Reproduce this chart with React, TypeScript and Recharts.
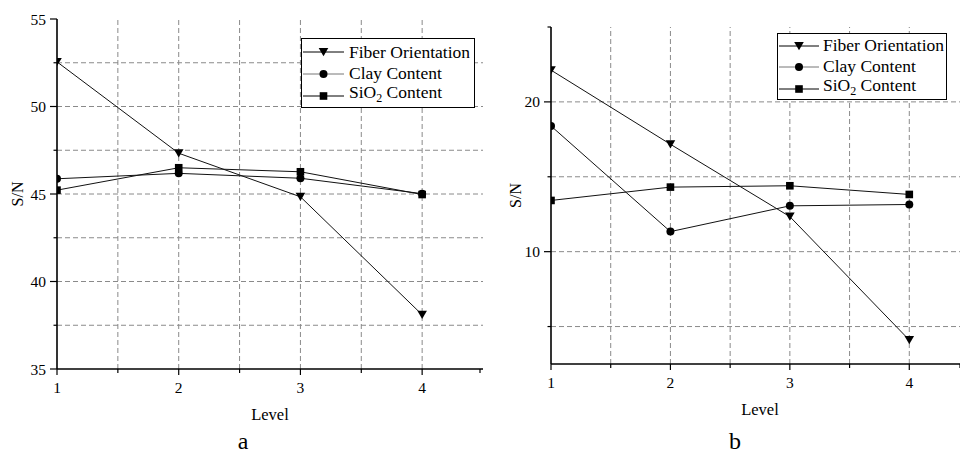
import { LineChart, Line, XAxis, YAxis, ReferenceLine, Legend } from "recharts"

const FONT = "Liberation Serif"

const levels = [1, 2, 3, 4]

// panel a
const fiberA = [52.55, 47.33, 44.84, 38.1]
const clayA = [45.87, 46.18, 45.9, 45.02]
const sio2A = [45.22, 46.5, 46.27, 44.97]

// panel b
const fiberB = [22.12, 17.17, 12.34, 4.1]
const clayB = [18.39, 11.34, 13.06, 13.15]
const sio2B = [13.42, 14.31, 14.4, 13.82]

const xTicks = [1, 1.5, 2, 2.5, 3, 3.5, 4, 4.5]
const xGrid = [1.5, 2, 2.5, 3, 3.5, 4]

const yTicksA = [35, 37.5, 40, 42.5, 45, 47.5, 50, 52.5, 55]
const yLabelsA = [35, 40, 45, 50, 55]
const yGridA = [37.5, 40, 42.5, 45, 47.5, 50, 52.5]

const yTicksB = [5, 10, 15, 20, 25]
const yLabelsB = [10, 20]
const yGridB = [5, 10, 15, 20]

const seriesNames = ["Fiber Orientation", "Clay Content", "SiO2 Content"]
const seriesKeys = ["fiber", "clay", "sio2"]

type Row = { level: number; fiber: number; clay: number; sio2: number }

const buildRows = (f: number[], c: number[], s: number[]): Row[] =>
  levels.map((level, i) => ({ level, fiber: f[i], clay: c[i], sio2: s[i] }))

const dataA = buildRows(fiberA, clayA, sio2A)
const dataB = buildRows(fiberB, clayB, sio2B)

function marker(kind: string, cx: number, cy: number, key?: string | number) {
  if (kind === "fiber") {
    return (
      <path
        key={key}
        d={`M${cx - 4.8},${cy - 4} L${cx + 4.8},${cy - 4} L${cx},${cy + 4.2} Z`}
        fill="#000"
      />
    )
  }
  if (kind === "clay") {
    return <circle key={key} cx={cx} cy={cy} r={4} fill="#000" />
  }
  return <rect key={key} x={cx - 3.8} y={cy - 3.8} width={7.6} height={7.6} fill="#000" />
}

function YTick({ x, y, payload, labels }: any) {
  const major = labels.includes(payload.value)
  const len = major ? 7 : 3.5
  return (
    <g>
      <line x1={x} y1={y} x2={x - len} y2={y} stroke="#000" strokeWidth={1.2} />
      {major && (
        <text
          x={x - len - 4}
          y={y}
          textAnchor="end"
          dominantBaseline="central"
          style={{ fontFamily: FONT, fontSize: 15.5 }}
          fill="#000"
        >
          {payload.value}
        </text>
      )}
    </g>
  )
}

function XTick({ x, y, payload }: any) {
  const major = Number.isInteger(payload.value)
  const len = major ? 6 : 4
  return (
    <g>
      <line x1={x} y1={y} x2={x} y2={y + len} stroke="#000" strokeWidth={1.2} />
      {major && payload.value <= 4 && (
        <text
          x={x}
          y={y + 18}
          textAnchor="middle"
          dominantBaseline="central"
          style={{ fontFamily: FONT, fontSize: 15.5 }}
          fill="#000"
        >
          {payload.value}
        </text>
      )}
    </g>
  )
}

interface LegendBoxProps {
  width: number
  height: number
  lineW: number
  rowH: number
  padTop: number
  gap: number
}

function LegendBox({ width, height, lineW, rowH, padTop, gap }: LegendBoxProps) {
  return (
    <div
      style={{
        width,
        height,
        boxSizing: "border-box",
        border: "1px solid #000",
        background: "#fff",
        paddingTop: padTop,
        paddingLeft: 1,
        fontFamily: FONT,
        fontSize: 17.5,
        color: "#000",
      }}
    >
      {seriesKeys.map((k, i) => (
        <div key={k} style={{ display: "flex", alignItems: "center", height: rowH, whiteSpace: "nowrap" }}>
          <svg width={lineW} height={12} style={{ marginRight: gap, flex: "none" }}>
            <line x1={0} y1={6} x2={lineW} y2={6} stroke={k === "clay" ? "#777" : "#000"} strokeWidth={1} />
            {marker(k, lineW / 2, 6)}
          </svg>
          <span style={{ lineHeight: `${rowH}px` }}>
            {k === "sio2" ? (
              <>
                SiO<sub style={{ fontSize: 12, verticalAlign: -4 }}>2</sub> Content
              </>
            ) : (
              seriesNames[i]
            )}
          </span>
        </div>
      ))}
    </div>
  )
}

interface PanelProps {
  data: Row[]
  left: number
  width: number
  margin: { top: number; right: number; left: number; bottom: number }
  yWidth: number
  xHeight: number
  yDomain: [number, number]
  yTicks: number[]
  yLabels: number[]
  yGrid: number[]
  titleX: number
  levelDy: number
  legendAt: { left: number; top: number }
  legend: LegendBoxProps
}

function Panel(p: PanelProps) {
  return (
    <div style={{ position: "absolute", left: p.left, top: 0 }}>
      <LineChart width={p.width} height={455} data={p.data} margin={p.margin}>
        {xGrid.map((v) => (
          <ReferenceLine key={`gx${v}`} x={v} stroke="#8a8a8a" strokeWidth={1} strokeDasharray="5 3" />
        ))}
        {p.yGrid.map((v) => (
          <ReferenceLine key={`gy${v}`} y={v} stroke="#8a8a8a" strokeWidth={1} strokeDasharray="5 3" />
        ))}
        <XAxis
          dataKey="level"
          type="number"
          domain={[1, 4.5]}
          ticks={xTicks}
          allowDataOverflow
          height={p.xHeight}
          tickSize={0}
          tickMargin={0}
          tickLine={false}
          axisLine={{ stroke: "#000", strokeWidth: 1.6 }}
          tick={<XTick />}
          label={{
            content: ({ viewBox }: any) => (
              <text
                x={viewBox.x + viewBox.width / 2}
                y={viewBox.y + p.levelDy}
                textAnchor="middle"
                style={{ fontFamily: FONT, fontSize: 16.5 }}
                fill="#000"
              >
                Level
              </text>
            ),
          }}
        />
        <YAxis
          type="number"
          domain={p.yDomain}
          ticks={p.yTicks}
          allowDataOverflow
          width={p.yWidth}
          tickSize={0}
          tickMargin={0}
          tickLine={false}
          axisLine={{ stroke: "#000", strokeWidth: 1.6 }}
          tick={<YTick labels={p.yLabels} />}
          label={{
            content: ({ viewBox }: any) => {
              const cx = viewBox.x + p.titleX
              const cy = viewBox.y + viewBox.height / 2
              return (
                <text
                  x={cx}
                  y={cy}
                  transform={`rotate(-90, ${cx}, ${cy})`}
                  textAnchor="middle"
                  dominantBaseline="central"
                  style={{ fontFamily: FONT, fontSize: 16 }}
                  fill="#000"
                >
                  S/N
                </text>
              )
            },
          }}
        />
        {seriesKeys.map((k, i) => (
          <Line
            key={k}
            dataKey={k}
            name={seriesNames[i]}
            stroke="#111"
            strokeWidth={1}
            isAnimationActive={false}
            dot={(d: any) => marker(k, d.cx, d.cy, `${k}-${d.index}`)}
            activeDot={false}
          />
        ))}
        <Legend
          layout="vertical"
          align="center"
          verticalAlign="middle"
          wrapperStyle={{ left: p.legendAt.left, top: p.legendAt.top, width: "auto" }}
          content={() => <LegendBox {...p.legend} />}
        />
      </LineChart>
    </div>
  )
}

const captionStyle = {
  position: "absolute" as const,
  top: 431,
  width: 40,
  textAlign: "center" as const,
  fontFamily: FONT,
  fontSize: 24,
  lineHeight: "20px",
}

export default function App() {
  return (
    <div
      style={{
        position: "fixed",
        left: 0,
        top: 0,
        width: 960,
        height: 455,
        overflow: "hidden",
        background: "#fff",
        fontFamily: FONT,
      }}
    >
      <Panel
        data={dataA}
        left={0}
        width={490}
        margin={{ top: 19, right: 7, left: 0, bottom: 0 }}
        yWidth={57}
        xHeight={86}
        yDomain={[35, 55]}
        yTicks={yTicksA}
        yLabels={yLabelsA}
        yGrid={yGridA}
        titleX={17.5}
        levelDy={51}
        legendAt={{ left: 301, top: 38 }}
        legend={{ width: 174, height: 70, lineW: 41, rowH: 21.7, padTop: 2.5, gap: 5 }}
      />
      <Panel
        data={dataB}
        left={480}
        width={490}
        margin={{ top: 27, right: 1, left: 0, bottom: 0 }}
        yWidth={71}
        xHeight={91}
        yDomain={[2.5, 25]}
        yTicks={yTicksB}
        yLabels={yLabelsB}
        yGrid={yGridB}
        titleX={35}
        levelDy={51}
        legendAt={{ left: 297, top: 33 }}
        legend={{ width: 170, height: 67, lineW: 40, rowH: 21.7, padTop: 0.8, gap: 4 }}
      />
      <div style={{ ...captionStyle, left: 223 }}>a</div>
      <div style={{ ...captionStyle, left: 715 }}>b</div>
    </div>
  )
}
